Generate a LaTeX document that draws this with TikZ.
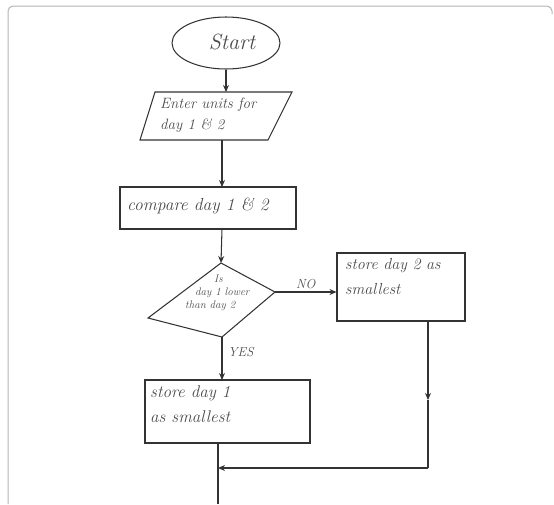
\documentclass[tikz,border=0pt]{standalone}
\usetikzlibrary{shapes.geometric,arrows.meta}
\definecolor{ink}{HTML}{333333}
\definecolor{pen}{HTML}{4A4A4A}
\definecolor{framec}{HTML}{B4B4B4}
\begin{document}
\begin{tikzpicture}[x=1pt,y=-1pt,
  line/.style={draw=ink,line width=1.05pt},
  arr/.style={line,-{Stealth[length=7pt,width=6pt]}},
  hand/.style={text=pen,font=\itshape\fontsize{16}{25}\selectfont,align=left,inner sep=0pt,anchor=west},
  box/.style={line,rectangle,inner sep=0pt},
]
\useasboundingbox (0,0) rectangle (554,504);
\draw[framec,line width=1pt,rounded corners=5pt] (8,504) -- (8,6) -- (552,6) -- (552,14);
% start
\node[ellipse,line,minimum width=108pt,minimum height=52pt] (start) at (226,43) {};
\node[hand,anchor=center,font=\itshape\fontsize{22}{24}\selectfont] (starttxt) at (232,42) {Start};
% input parallelogram
\coordinate (p1) at (155,92);
\coordinate (p2) at (292,92);
\coordinate (p3) at (268,140);
\coordinate (p4) at (140,140);
\draw[line] (p1) -- (p2) -- (p3) -- (p4) -- cycle;
\node[hand,font=\itshape\fontsize{15}{21}\selectfont] (inptxt) at (160,115) {Enter units for\\day 1 \& 2};
\coordinate (inTop) at (226,92);
\coordinate (inBot) at (222,140);
% compare
\node[box,minimum width=176pt,minimum height=42pt] (cmp) at (208,208) {};
\node[hand,font=\itshape\fontsize{17.5}{20}\selectfont] (cmptxt) at (127,206) {compare day 1 \& 2};
\coordinate (cmpTop) at (222,187);
\coordinate (cmpBot) at (222,229);
% decision
\coordinate (dt) at (221,263);
\coordinate (dr) at (275,292);
\coordinate (db) at (222,337);
\coordinate (dl) at (148,318);
\draw[line] (dt) -- (dr) -- (db) -- (dl) -- cycle;
\node[hand,font=\itshape\fontsize{11}{13}\selectfont] (dectxt) at (185,293) {\hspace*{29pt}Is\\\hspace*{10pt}day 1 lower\\than day 2};
% store day 2
\node[box,minimum width=128pt,minimum height=68pt] (s2) at (401,287) {};
\node[hand] (s2txt) at (345,277) {store day 2 as\\smallest};
\node[hand,font=\itshape\fontsize{13}{14}\selectfont] (no) at (296,284) {NO};
% store day 1
\node[box,minimum width=165pt,minimum height=63pt] (s1) at (227.5,411.5) {};
\node[hand,font=\itshape\fontsize{17}{25}\selectfont] (s1txt) at (150,404) {store day 1\\as smallest};
\node[hand,font=\itshape\fontsize{13}{14}\selectfont] (yes) at (228,352) {YES};
% connectors
\coordinate (s2bot) at (428,321);
\coordinate (s2mid) at (428,400);
\coordinate (cor) at (428,468);
\coordinate (merge) at (218,468);
\coordinate (s1top) at (222,380);
\coordinate (s1bot) at (218,443);
\coordinate (endpt) at (218,504);
\draw[arr] (start.south -| inTop) -- (inTop);
\draw[arr] (inBot) -- (cmpTop);
\draw[arr] (cmpBot) -- (dt);
\draw[arr] (dr) -- (dr -| s2.west);
\draw[arr] (db) -- (s1top);
\draw[arr] (s2bot) -- (s2mid);
\draw[line] (s2mid) -- (cor);
\draw[arr] (cor) -- (merge);
\draw[line] (s1bot) -- (endpt);
\end{tikzpicture}
\end{document}
